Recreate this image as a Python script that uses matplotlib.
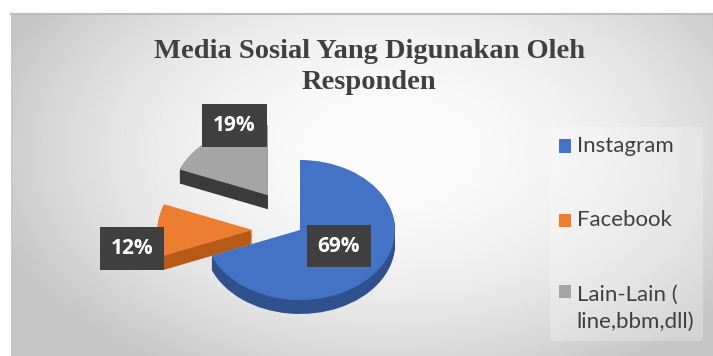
import numpy as np
import matplotlib.pyplot as plt

# ---------- Data ----------
labels = ["Instagram", "Facebook", "Lain-Lain (\nline,bbm,dll)"]
shares = [69, 12, 19]
pct_text = ["69%", "12%", "19%"]
explode = [0.0, 0.5, 0.6]
top_colors = ["#4472c4", "#ed7d31", "#a5a5a5"]
side_colors = ["#2f528f", "#b85a17", "#3b3b3b"]
# label box positions (in pie units, relative to pie center)
label_xy = [(0.41, -0.23), (-1.77, -0.26), (-0.69, 1.49)]

W, H = 713, 356
fig = plt.figure(figsize=(W / 100, H / 100), dpi=100)

# ---------- Background ----------
bg = fig.add_axes([0, 0, 1, 1], zorder=0)
yy, xx = np.mgrid[0:H, 0:W]
r = np.sqrt(((xx - 390) / 420.0) ** 2 + ((yy - 150) / 260.0) ** 2)
shade = np.clip(0.99 - 0.22 * r ** 2, 0.78, 1.0)
img = np.dstack([shade] * 3)
img[:13, :] = 1.0
img[:, :11] = 1.0
bg.imshow(img, extent=(0, W, H, 0), aspect="auto", interpolation="bilinear")
bg.plot([11, W], [13.5, 13.5], color="#bdbdbd", lw=1.5)
bg.plot([11.5, 11.5], [13, H], color="#c8c8c8", lw=1.2)
bg.set_xlim(0, W)
bg.set_ylim(H, 0)
bg.axis("off")

# ---------- Pie ----------
ax = fig.add_axes([0, 0, 1, 1], zorder=1)
ax.patch.set_alpha(0)
cx, cy = 300, 230      # pie center in pixels (from top-left)
rx, ry = 95, 70        # horizontal / vertical radius in pixels
depth = 0.2

for off in np.linspace(depth, 0.0, 16)[:-1]:
    ax.pie(shares, explode=explode, colors=side_colors, startangle=90,
           counterclock=False, center=(0, -off),
           wedgeprops=dict(linewidth=0))

wedges, _ = ax.pie(shares, explode=explode, colors=top_colors, startangle=90,
                   counterclock=False, center=(0, 0),
                   wedgeprops=dict(linewidth=0))

for (x, y), t in zip(label_xy, pct_text):
    ax.text(x, y, t, ha="center", va="center", color="white",
            fontsize=15, fontweight="bold", family="Open Sans",
            bbox=dict(boxstyle="square,pad=0.52", fc="#404040", ec="none"))

ax.set_aspect("auto")
ax.set_xlim(-cx / rx, (W - cx) / rx)
ax.set_ylim(-(H - cy) / ry, cy / ry)
ax.axis("off")

# ---------- Title ----------
fig.text(369 / W, 1 - 67 / H, "Media Sosial Yang Digunakan Oleh\nResponden",
         ha="center", va="center", fontsize=20.5, fontweight="bold",
         family="Liberation Serif", color="#404040", linespacing=1.32)

# ---------- Legend ----------
leg = fig.legend(wedges, labels, loc="upper left",
                 bbox_to_anchor=(539 / W, 1 - 116 / H),
                 prop={"family": "Lato", "size": 16},
                 labelcolor="#404040", frameon=True, handlelength=0.55,
                 handleheight=0.55, handletextpad=0.25, labelspacing=2.45,
                 borderpad=0.4)
leg.get_frame().set_facecolor("white")
leg.get_frame().set_alpha(0.25)
leg.get_frame().set_edgecolor("none")
leg.get_texts()[2].set_linespacing(1.45)
# keep the square next to the first line of the two-line label
for col in leg._legend_handle_box.get_children():
    for row in col.get_children():
        row.align = "center"
    col.get_children()[-1].align = "top"

fig.savefig("out.png", dpi=100)
